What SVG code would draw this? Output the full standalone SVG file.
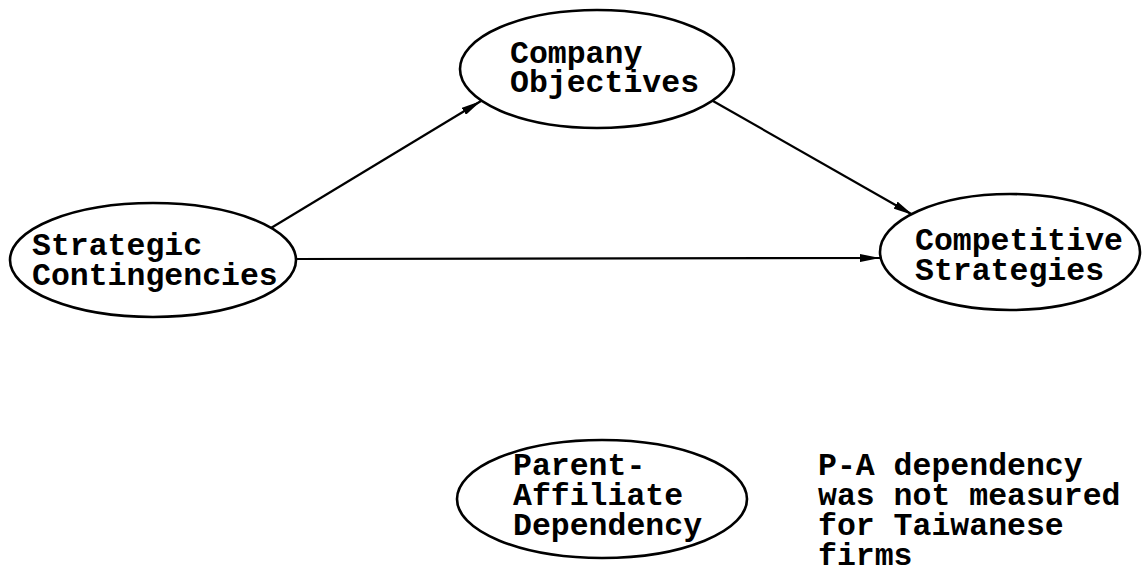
<svg xmlns="http://www.w3.org/2000/svg" width="1142" height="568" viewBox="0 0 1142 568">
  <style>
    .node { fill: #fff; stroke: #000; stroke-width: 2.6; }
    .label { font-family: "Liberation Mono", "Courier New", monospace; font-weight: bold; font-size: 31.5px; fill: #000; }
    .edge { stroke: #000; stroke-width: 2.2; fill: none; marker-end: url(#arrow); }
  </style>
  <defs>
    <marker id="arrow" viewBox="0 0 20 8" refX="20" refY="4" markerWidth="20" markerHeight="8" markerUnits="userSpaceOnUse" orient="auto">
      <path d="M0,0 L20,4 L0,8 Z" fill="#000"/>
    </marker>
  </defs>

  <g id="connectors">
    <line class="edge" x1="271" y1="228" x2="481" y2="101"/>
    <line class="edge" x1="713" y1="101" x2="913" y2="215"/>
    <line class="edge" x1="297" y1="259" x2="880" y2="258"/>
  </g>

  <g id="company-objectives">
    <ellipse class="node" cx="597" cy="69" rx="137" ry="59"/>
    <text class="label" x="510" y="63">Company</text>
    <text class="label" x="510" y="92">Objectives</text>
  </g>

  <g id="strategic-contingencies">
    <ellipse class="node" cx="153" cy="260" rx="143" ry="57"/>
    <text class="label" x="32" y="255">Strategic</text>
    <text class="label" x="32" y="285">Contingencies</text>
  </g>

  <g id="competitive-strategies">
    <ellipse class="node" cx="1010" cy="252" rx="130" ry="58"/>
    <text class="label" x="915" y="250">Competitive</text>
    <text class="label" x="915" y="280">Strategies</text>
  </g>

  <g id="parent-affiliate-dependency">
    <ellipse class="node" cx="602" cy="499" rx="145" ry="59"/>
    <text class="label" x="513" y="475">Parent-</text>
    <text class="label" x="513" y="505">Affiliate</text>
    <text class="label" x="513" y="535">Dependency</text>
  </g>

  <g id="note">
    <text class="label" x="818" y="475">P-A dependency</text>
    <text class="label" x="818" y="505">was not measured</text>
    <text class="label" x="818" y="535">for Taiwanese</text>
    <text class="label" x="818" y="565">firms</text>
  </g>
</svg>
